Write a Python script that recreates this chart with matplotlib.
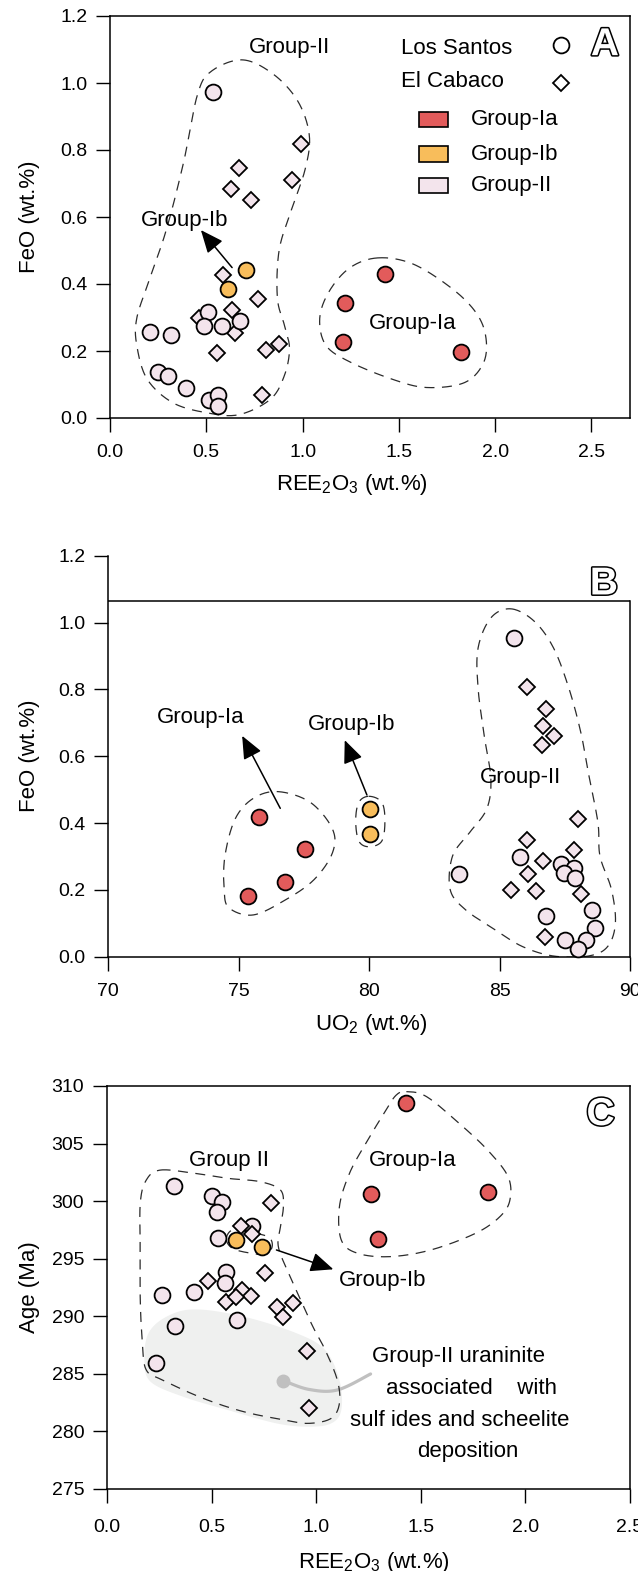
import numpy as np
import matplotlib.pyplot as plt
import matplotlib.patheffects as pe
from matplotlib.patches import Rectangle, Polygon
from matplotlib.ticker import FormatStrFormatter

plt.rcParams['font.family'] = ['Liberation Sans', 'DejaVu Sans']
plt.rcParams['mathtext.fontset'] = 'custom'
plt.rcParams['mathtext.rm'] = 'Liberation Sans'
plt.rcParams['mathtext.it'] = 'Liberation Sans:italic'

RED = '#e25b5b'
ORANGE = '#f8bd5b'
PINK = '#f3e4ec'

# ---- panel A : REE2O3 vs FeO ----
A_IA_REE = [1.43, 1.22, 1.21, 1.82]
A_IA_FEO = [0.431, 0.342, 0.227, 0.197]
A_IB_REE = [0.705, 0.613]
A_IB_FEO = [0.442, 0.386]
A_LS_REE = [0.537, 0.207, 0.315, 0.247, 0.303, 0.395, 0.512, 0.562, 0.559, 0.508, 0.490, 0.582, 0.674]
A_LS_FEO = [0.973, 0.256, 0.249, 0.136, 0.126, 0.090, 0.055, 0.068, 0.036, 0.315, 0.275, 0.276, 0.290]
A_EC_REE = [0.993, 0.671, 0.626, 0.734, 0.945, 0.586, 0.766, 0.631, 0.460, 0.649, 0.553, 0.809, 0.878, 0.791]
A_EC_FEO = [0.817, 0.746, 0.684, 0.652, 0.709, 0.427, 0.356, 0.321, 0.300, 0.255, 0.195, 0.203, 0.221, 0.069]

# ---- panel B : UO2 vs FeO ----
B_IA_UO2 = [75.78, 77.56, 76.79, 75.37]
B_IA_FEO = [0.417, 0.322, 0.224, 0.183]
B_IB_UO2 = [80.03, 80.03]
B_IB_FEO = [0.442, 0.368]
B_LS_UO2 = [85.56, 83.46, 85.77, 87.37, 87.86, 87.49, 87.90, 86.78, 88.55, 88.66, 87.52, 88.30, 87.99]
B_LS_FEO = [0.954, 0.246, 0.299, 0.276, 0.266, 0.251, 0.236, 0.122, 0.139, 0.087, 0.050, 0.050, 0.022]
B_EC_UO2 = [86.04, 86.78, 86.67, 87.07, 86.63, 87.99, 86.04, 87.86, 86.66, 86.11, 85.44, 86.41, 88.14, 86.73]
B_EC_FEO = [0.806, 0.740, 0.691, 0.661, 0.633, 0.412, 0.348, 0.318, 0.286, 0.246, 0.199, 0.196, 0.187, 0.060]

# ---- panel C : REE2O3 vs age ----
C_IA_REE = [1.431, 1.260, 1.823, 1.295]
C_IA_AGE = [308.55, 300.59, 300.82, 296.71]
C_IB_REE = [0.616, 0.742]
C_IB_AGE = [296.62, 296.05]
C_LS_REE = [0.320, 0.503, 0.548, 0.528, 0.693, 0.532, 0.571, 0.563, 0.262, 0.416, 0.324, 0.621, 0.233]
C_LS_AGE = [301.31, 300.45, 299.95, 299.03, 297.87, 296.77, 293.87, 292.92, 291.85, 292.08, 289.18, 289.68, 285.97]
C_EC_REE = [0.784, 0.641, 0.693, 0.755, 0.485, 0.645, 0.687, 0.567, 0.616, 0.814, 0.891, 0.843, 0.955, 0.965]
C_EC_AGE = [299.81, 297.87, 297.12, 293.73, 293.09, 292.28, 291.79, 291.21, 291.64, 290.83, 291.12, 289.91, 286.98, 282.0]

# hand drawn group outlines (data coordinates)
A_ENV_II = [(0.689, 1.069), (0.851, 1.025), (0.977, 0.944), (1.035, 0.843), (1.013, 0.742), (0.941, 0.620),
            (0.878, 0.500), (0.869, 0.359), (0.905, 0.278), (0.932, 0.207), (0.905, 0.126), (0.833, 0.056),
            (0.670, 0.010), (0.508, 0.015), (0.328, 0.045), (0.193, 0.116), (0.139, 0.217), (0.139, 0.298),
            (0.202, 0.409), (0.292, 0.561), (0.382, 0.763), (0.454, 0.965), (0.526, 1.035)]
A_ENV_IA = [(1.392, 0.478), (1.572, 0.460), (1.770, 0.389), (1.896, 0.318), (1.950, 0.247), (1.941, 0.167),
            (1.842, 0.106), (1.644, 0.091), (1.464, 0.116), (1.247, 0.167), (1.121, 0.217), (1.089, 0.298),
            (1.139, 0.379), (1.247, 0.449)]
B_ENV_IA = [(76.52, 0.494), (77.75, 0.462), (78.60, 0.382), (78.60, 0.311), (77.90, 0.231), (76.82, 0.171),
            (75.57, 0.125), (74.64, 0.146), (74.45, 0.201), (74.48, 0.301), (74.87, 0.412), (75.57, 0.474)]
B_ENV_IB = [(80.0, 0.480), (80.49, 0.462), (80.61, 0.407), (80.49, 0.346), (80.0, 0.329), (79.61, 0.346),
            (79.49, 0.407), (79.61, 0.462)]
B_ENV_II = [(85.44, 1.041), (86.33, 1.004), (87.07, 0.924), (87.66, 0.803), (88.11, 0.673), (88.40, 0.552),
            (88.77, 0.402), (88.85, 0.301), (89.29, 0.201), (89.44, 0.100), (89.14, 0.030), (88.40, 0.002),
            (87.07, 0.002), (85.89, 0.030), (84.84, 0.080), (83.69, 0.141), (83.11, 0.201), (83.20, 0.301),
            (83.85, 0.371), (84.51, 0.442), (84.67, 0.532), (84.43, 0.653), (84.18, 0.803), (84.18, 0.924),
            (84.67, 1.014)]
C_ENV_II = [(0.256, 302.70), (0.421, 302.41), (0.577, 301.98), (0.732, 301.69), (0.829, 300.97), (0.843, 299.52),
            (0.829, 297.78), (0.819, 296.05), (0.868, 293.73), (0.926, 291.41), (0.984, 289.10), (1.043, 287.07),
            (1.101, 284.46), (1.111, 282.44), (1.072, 281.14), (0.965, 280.70), (0.849, 280.99), (0.654, 281.71),
            (0.460, 282.87), (0.266, 284.46), (0.188, 285.33), (0.169, 287.65), (0.159, 291.41), (0.159, 295.47),
            (0.159, 299.81), (0.188, 301.84)]
C_ENV_IA = [(1.431, 309.51), (1.528, 309.07), (1.683, 306.76), (1.819, 304.44), (1.917, 302.13), (1.926, 300.10),
            (1.878, 298.65), (1.761, 297.20), (1.548, 295.76), (1.353, 295.18), (1.198, 295.47), (1.120, 296.62),
            (1.111, 299.52), (1.159, 302.41), (1.237, 305.02), (1.334, 307.92), (1.383, 309.22)]
C_ENV_IB = [(0.57, 296.7), (0.60, 297.5), (0.68, 297.3), (0.77, 296.9), (0.79, 296.1), (0.76, 295.4),
            (0.68, 295.5), (0.60, 295.9)]
C_SHADE = [(0.421, 290.60), (0.654, 289.97), (0.907, 288.52), (1.043, 287.07), (1.111, 284.46), (1.120, 281.86),
           (1.072, 280.70), (0.965, 280.41), (0.810, 280.70), (0.577, 281.86), (0.363, 283.02), (0.208, 284.32),
           (0.179, 286.20), (0.198, 288.52), (0.285, 289.97)]
C_LEADER = [(0.843, 284.41), (0.965, 283.65), (1.101, 283.60), (1.260, 284.99)]
C_NOTE = ['Group-II uraninite', 'associated    with', 'sulf ides and scheelite', 'deposition']
C_NOTE_X = [1.682, 1.742, 1.686, 1.726]
C_NOTE_Y = [286.49, 283.74, 280.99, 278.24]


def catmull(pts, closed=True, n=24):
    p = np.asarray(pts, float)
    if not closed:
        p = np.vstack([p[0], p, p[-1]])
    k = len(p)
    segs = range(k) if closed else range(1, k - 2)
    t = np.linspace(0, 1, n, endpoint=False)[:, None]
    out = []
    for i in segs:
        p0, p1, p2, p3 = p[i - 1], p[i], p[(i + 1) % k], p[(i + 2) % k]
        out.append(0.5 * (2 * p1 + (-p0 + p2) * t + (2 * p0 - 5 * p1 + 4 * p2 - p3) * t ** 2
                          + (-p0 + 3 * p1 - 3 * p2 + p3) * t ** 3))
    out = np.vstack(out)
    end = out[:1] if closed else p[-2:-1]
    return np.vstack([out, end])


def envelope(ax, pts):
    c = catmull(pts)
    ax.plot(c[:, 0], c[:, 1], ls=(0, (8, 6)), lw=0.9, color='#2b2b2b', zorder=2)


def points(ax, x, y, marker, fc, z):
    ms = 11.4 if marker == 'o' else 8.2
    ax.plot(x, y, ls='none', marker=marker, ms=ms, mfc=fc, mec='black', mew=1.3, zorder=z, clip_on=False)


def arrow(ax, tail, head):
    ax.annotate('', xy=head, xytext=tail, zorder=6,
                arrowprops=dict(arrowstyle='-|>,head_length=0.7,head_width=0.3', lw=1.1, color='black',
                                mutation_scale=20, shrinkA=0, shrinkB=0))


def letter(ax, x, y, s):
    ax.text(x, y, s, fontsize=28, fontweight='bold', color='white', ha='center', va='center', clip_on=False,
            path_effects=[pe.withStroke(linewidth=2.2, foreground='black')], zorder=7)


def style(ax, xpad=8.5):
    for s in ax.spines.values():
        s.set_linewidth(1.1)
    ax.tick_params(direction='out', length=10.4, width=1.0, labelsize=14, colors='black')
    ax.tick_params(axis='x', pad=xpad)
    ax.tick_params(axis='y', pad=6)


W, H = 638, 1571
fig = plt.figure(figsize=(W / 100, H / 100), dpi=100)


def add_ax(l, r, t, b):
    return fig.add_axes([l / W, 1 - b / H, (r - l) / W, (b - t) / H])


TXT = 16

# ---------------- A ----------------
ax = add_ax(110, 630, 16, 418)
style(ax)
ax.set_xlim(0, 2.70)
ax.set_ylim(0, 1.2)
ax.set_xticks(np.arange(0, 2.51, 0.5))
ax.set_yticks(np.arange(0, 1.21, 0.2))
ax.xaxis.set_major_formatter(FormatStrFormatter('%.1f'))
ax.yaxis.set_major_formatter(FormatStrFormatter('%.1f'))
envelope(ax, A_ENV_II)
envelope(ax, A_ENV_IA)
points(ax, A_EC_REE, A_EC_FEO, 'D', PINK, 3)
points(ax, A_LS_REE, A_LS_FEO, 'o', PINK, 4)
points(ax, A_IB_REE, A_IB_FEO, 'o', ORANGE, 5)
points(ax, A_IA_REE, A_IA_FEO, 'o', RED, 5)
arrow(ax, (0.634, 0.449), (0.472, 0.561))
ax.text(0.932, 1.106, 'Group-II', fontsize=TXT, ha='center', va='center')
ax.text(1.572, 0.283, 'Group-Ia', fontsize=TXT, ha='center', va='center')
ax.text(0.386, 0.589, 'Group-Ib', fontsize=TXT, ha='center', va='center')
# legend
ax.text(1.512, 1.104, 'Los Santos', fontsize=TXT, ha='left', va='center')
ax.text(1.512, 1.003, 'El Cabaco', fontsize=TXT, ha='left', va='center')
points(ax, [2.341], [1.113], 'o', 'white', 5)
points(ax, [2.341], [1.000], 'D', 'white', 5)
for yy, col, lab in zip([0.891, 0.788, 0.694], [RED, ORANGE, PINK], ['Group-Ia', 'Group-Ib', 'Group-II']):
    ax.add_patch(Rectangle((1.602, yy - 0.0225), 0.155, 0.045, fc=col, ec='black', lw=1.2, zorder=5))
    ax.text(1.873, yy, lab, fontsize=TXT, ha='left', va='center')
letter(ax, 2.57, 1.113, 'A')
ax.set_xlabel(r'REE$_2$O$_3$ (wt.%)', fontsize=TXT)
ax.set_ylabel('FeO (wt.%)', fontsize=TXT)
ax.xaxis.set_label_coords(0.466, -0.134)
ax.yaxis.set_label_coords(-0.134, 0.5)

# ---------------- B ----------------
ax = add_ax(108, 630, 555.7, 956.7)
style(ax)
ax.set_xlim(70, 90)
ax.set_ylim(0, 1.2)
ax.set_xticks(np.arange(70, 91, 5))
ax.set_yticks(np.arange(0, 1.21, 0.2))
ax.yaxis.set_major_formatter(FormatStrFormatter('%.1f'))
ax.spines['top'].set_visible(False)
ax.spines['right'].set_bounds(0, 1.065)
ax.axhline(1.065, color='black', lw=1.1, zorder=1)
envelope(ax, B_ENV_II)
envelope(ax, B_ENV_IA)
envelope(ax, B_ENV_IB)
points(ax, B_EC_UO2, B_EC_FEO, 'D', PINK, 3)
points(ax, B_LS_UO2, B_LS_FEO, 'o', PINK, 4)
points(ax, B_IB_UO2, B_IB_FEO, 'o', ORANGE, 5)
points(ax, B_IA_UO2, B_IA_FEO, 'o', RED, 5)
arrow(ax, (76.60, 0.444), (75.14, 0.661))
arrow(ax, (79.92, 0.484), (79.07, 0.648))
ax.text(73.54, 0.716, 'Group-Ia', fontsize=TXT, ha='center', va='center')
ax.text(79.33, 0.696, 'Group-Ib', fontsize=TXT, ha='center', va='center')
ax.text(85.81, 0.537, 'Group-II', fontsize=TXT, ha='center', va='center')
letter(ax, 89.0, 1.114, 'B')
ax.set_xlabel(r'UO$_2$ (wt.%)', fontsize=TXT)
ax.set_ylabel('FeO (wt.%)', fontsize=TXT)
ax.xaxis.set_label_coords(0.505, -0.138)
ax.yaxis.set_label_coords(-0.130, 0.5)

# ---------------- C ----------------
ax = add_ax(107, 630, 1086, 1489)
style(ax, xpad=11)
ax.set_xlim(0, 2.5)
ax.set_ylim(275, 310)
ax.set_xticks(np.arange(0, 2.51, 0.5))
ax.set_yticks(np.arange(275, 311, 5))
ax.xaxis.set_major_formatter(FormatStrFormatter('%.1f'))
ax.add_patch(Polygon(catmull(C_SHADE), closed=True, fc='#eff0ef', ec='none', zorder=0))
envelope(ax, C_ENV_II)
envelope(ax, C_ENV_IA)
envelope(ax, C_ENV_IB)
points(ax, C_LS_REE, C_LS_AGE, 'o', PINK, 3)
points(ax, C_EC_REE, C_EC_AGE, 'D', PINK, 4)
points(ax, C_IB_REE, C_IB_AGE, 'o', ORANGE, 5)
points(ax, C_IA_REE, C_IA_AGE, 'o', RED, 5)
lead = catmull(C_LEADER, closed=False)
ax.plot(lead[:, 0], lead[:, 1], color='#c0c0c0', lw=2.3, solid_capstyle='round', zorder=1)
ax.plot([C_LEADER[0][0]], [C_LEADER[0][1]], 'o', ms=10, color='#c0c0c0', mec='none', zorder=1)
arrow(ax, (0.810, 295.76), (1.082, 294.08))
ax.text(0.581, 303.57, 'Group II', fontsize=TXT, ha='center', va='center')
ax.text(1.460, 303.57, 'Group-Ia', fontsize=TXT, ha='center', va='center')
ax.text(1.318, 293.15, 'Group-Ib', fontsize=TXT, ha='center', va='center')
for s, xx, yy in zip(C_NOTE, C_NOTE_X, C_NOTE_Y):
    ax.text(xx, yy, s, fontsize=TXT, ha='center', va='center')
letter(ax, 2.359, 307.48, 'C')
ax.set_xlabel(r'REE$_2$O$_3$ (wt.%)', fontsize=TXT)
ax.set_ylabel('Age (Ma)', fontsize=TXT)
ax.xaxis.set_label_coords(0.51, -0.152)
ax.yaxis.set_label_coords(-0.128, 0.5)

fig.savefig('out.png', dpi=100)
